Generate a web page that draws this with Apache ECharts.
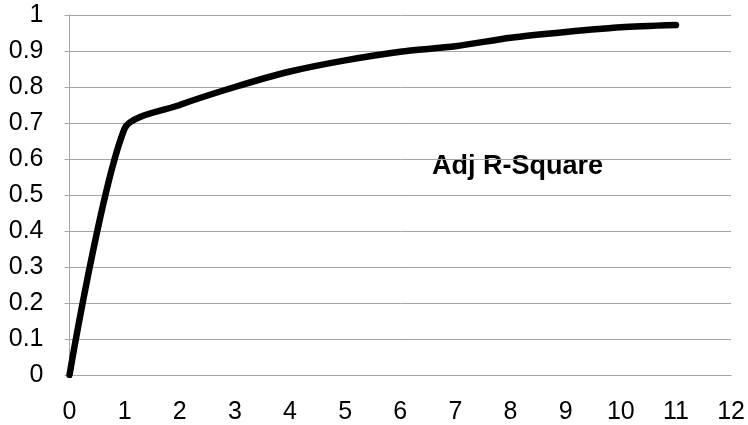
<!DOCTYPE html>
<html>
<head>
<meta charset="utf-8">
<script src="https://cdn.jsdelivr.net/npm/echarts@6/dist/echarts.min.js"></script>
<style>
  html, body { margin: 0; padding: 0; background: #ffffff; }
  #chart { width: 748px; height: 425px; }
</style>
</head>
<body>
<div id="chart"></div>
<script>
// Adjusted R-square by number of predictors
const xValues = [0, 1, 2, 3, 4, 5, 6, 7, 8, 9, 10, 11];
const adjRSquare = [0, 0.685, 0.75, 0.80, 0.843, 0.874, 0.898, 0.913, 0.937, 0.953, 0.966, 0.972];
const seriesLabel = 'Adj R-Square';

const gridColor = '#a6a6a6';
const labelFont = 'Liberation Sans, Arial, sans-serif';

const chart = echarts.init(document.getElementById('chart'), null, { renderer: 'canvas' });

chart.setOption({
  animation: false,
  backgroundColor: '#ffffff',
  grid: { left: 69.5, right: 16, top: 15, bottom: 47.5, containLabel: false },
  xAxis: {
    type: 'value',
    min: 0,
    max: 12,
    interval: 1,
    axisLine: { show: true, lineStyle: { color: gridColor, width: 1 } },
    axisTick: { show: false },
    splitLine: { show: false },
    axisLabel: { color: '#000', fontSize: 25, fontFamily: labelFont, margin: 25 }
  },
  yAxis: {
    type: 'value',
    min: 0,
    max: 1,
    interval: 0.1,
    axisLine: { show: true, lineStyle: { color: gridColor, width: 1 } },
    axisTick: { show: true, length: 5, lineStyle: { color: gridColor, width: 1 } },
    splitLine: { show: true, lineStyle: { color: gridColor, width: 1 } },
    axisLabel: { color: '#000', fontSize: 25, fontFamily: labelFont, margin: 26 }
  },
  series: [{
    name: seriesLabel,
    type: 'line',
    data: xValues.map((x, i) => [x, adjRSquare[i]]),
    smooth: 0.25,
    showSymbol: false,
    lineStyle: { color: '#000', width: 6.5, cap: 'round', join: 'round' }
  }],
  graphic: [{
    type: 'text',
    left: 432,
    top: 153,
    style: {
      text: seriesLabel,
      fill: '#000',
      font: 'bold 27px ' + labelFont
    }
  }]
});
</script>
</body>
</html>
